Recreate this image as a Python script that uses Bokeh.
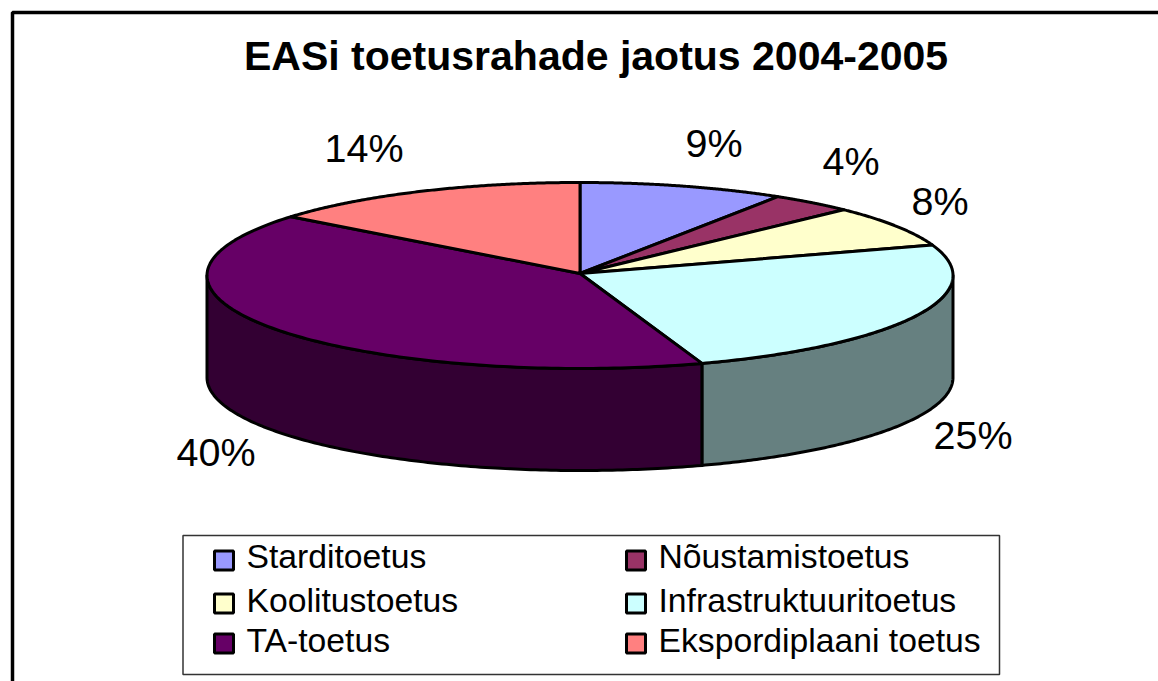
import numpy as np
from bokeh.plotting import figure
from bokeh.models import Range1d, ColumnDataSource
from bokeh.core.properties import value
from bokeh.embed import file_html
from bokeh.resources import INLINE

title = "EASi toetusrahade jaotus 2004-2005"
categories = ["Starditoetus", "Nõustamistoetus", "Koolitustoetus",
              "Infrastruktuuritoetus", "TA-toetus", "Ekspordiplaani toetus"]
shares = [8.9, 3.6, 7.2, 25.0, 41.2, 14.1]
pct_labels = ["9%", "4%", "8%", "25%", "40%", "14%"]
colors = ["#9999FF", "#993366", "#FFFFCC", "#CCFFFF", "#660066", "#FF8080"]
side_colors = ["#4D4D80", "#4D1A33", "#808066", "#668080", "#330033", "#804040"]

FONT = value("Liberation Sans")
CX, CY, APEX_Y, RX, RY, DEPTH = 579.5, 275, 273, 373, 93, 102
MID = 0.37

p = figure(width=1158, height=681, output_backend="svg", toolbar_location=None,
           x_range=Range1d(0, 1158), y_range=Range1d(681, 0), min_border=0,
           background_fill_color="white", outline_line_color=None)
p.axis.visible = False
p.grid.visible = False

# chart-area frame (only top and left edges are visible)
p.line([12, 12, 1158], [681, 12, 12], line_color="black", line_width=3.5)

def arc(a0, a1, dy=0.0):
    t = np.radians(np.linspace(a0, a1, 140))
    return CX + RX * np.sin(t), CY - RY * np.cos(t) + dy

bounds = np.cumsum([0] + shares) / sum(shares) * 360

# side walls: only the part of the rim facing the viewer
for i in range(len(shares)):
    a0, a1 = max(bounds[i], 90), min(bounds[i + 1], 270)
    if a1 <= a0:
        continue
    x_top, y_top = arc(a0, a1)
    x_bot, y_bot = arc(a0, a1, DEPTH)
    p.patch(np.r_[x_top, x_bot[::-1]], np.r_[y_top, y_bot[::-1]],
            fill_color=side_colors[i], line_color="black", line_width=3, line_join="round")

# top slices
for i in range(len(shares)):
    x, y = arc(bounds[i], bounds[i + 1])
    p.patch(np.r_[CX, x], np.r_[APEX_Y, y], fill_color=colors[i],
            line_color="black", line_width=3, line_join="round")

def texts(xs, baselines, strings, size, **kw):
    ys = [b - MID * size for b in baselines]
    p.text(xs, ys, text=strings, text_font=FONT, text_font_size=f"{size}px",
           text_color="black", text_baseline="middle", text_align="left", **kw)

# title
texts([243.5], [71], [title], 41, text_font_style="bold")

# data labels
label_x = [685, 822, 911, 933, 176, 324]
label_y = [157, 175, 215, 449, 466, 162]
texts(label_x, label_y, pct_labels, 39.5)

# legend
p.quad(left=[182.5], right=[999], top=[535], bottom=[674], fill_color="white",
       line_color="#333333", line_width=1.5)
swatch_x = [223.5, 635.5, 223.5, 635.5, 223.5, 635.5]
swatch_y = [560, 560, 603, 603, 643, 643]
text_x = [246, 658, 246, 658, 246, 658]
text_y = [568, 568, 612, 612, 652, 652]
src = ColumnDataSource(dict(x=swatch_x, y=swatch_y, c=colors))
p.rect("x", "y", width=19, height=19, fill_color="c", line_color="black", line_width=3, source=src)
texts(text_x, text_y, categories, 33.7)

open("out.html", "w").write(file_html(p, INLINE))
